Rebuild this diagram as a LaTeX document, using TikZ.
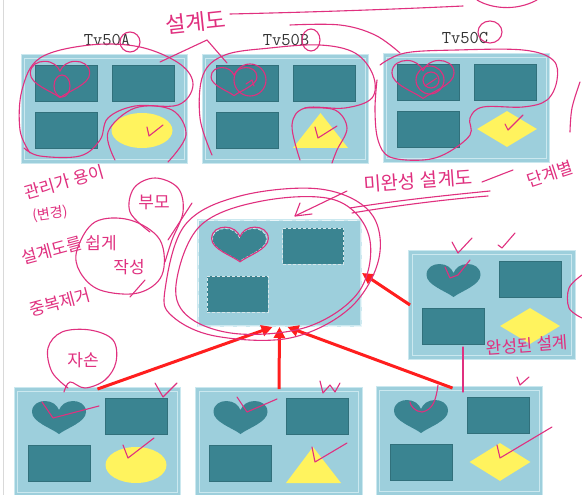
\documentclass[tikz,border=0pt]{standalone}
\usepackage{fontspec}
\newfontfamily\kor{Noto Sans CJK KR}
\usetikzlibrary{shapes.geometric,arrows.meta}
\definecolor{panelC}{HTML}{9DCFDC}
\definecolor{frameC}{HTML}{CBE8EF}
\definecolor{tealC}{HTML}{3A8491}
\definecolor{yelC}{HTML}{FFF35E}
\definecolor{pinkC}{HTML}{E0307F}
\definecolor{redC}{HTML}{FF1E1E}
\tikzset{
  heart/.pic={\path[pic actions] (0,16) .. controls (-8,10) and (-27,4) .. (-27,-6) .. controls (-27,-14) and (-20,-17) .. (-14,-17) .. controls (-7,-17) and (-2,-13) .. (0,-8) .. controls (2,-13) and (7,-17) .. (14,-17) .. controls (20,-17) and (27,-14) .. (27,-6) .. controls (27,4) and (8,10) .. (0,16) -- cycle;},
  panel/.style={rectangle, fill=panelC, draw=frameC, double=panelC, double distance=2.4pt, line width=0.9pt, minimum width=163pt, minimum height=105pt, inner sep=0},
  dpanel/.style={rectangle, fill=panelC, draw=frameC, line width=2pt, minimum width=163pt, minimum height=106pt, inner sep=0, postaction={draw=white!60!frameC, dash pattern=on 9pt off 4pt, line width=1pt}},
  slot/.style={rectangle, fill=tealC, draw=tealC!85!black, line width=0.4pt, minimum width=62pt, minimum height=36pt, inner sep=0},
  dslot/.style={rectangle, fill=tealC, draw=white!80!tealC, dash pattern=on 3pt off 2pt, line width=0.8pt, minimum width=61pt, minimum height=36pt, inner sep=0},
  yshape/.style={fill=yelC, draw=none, inner sep=0},
  title/.style={font=\ttfamily\fontsize{18}{20}\selectfont, text=black!80, inner sep=0},
  note/.style={text=pinkC, font=\kor\fontsize{17}{19}\selectfont, inner sep=0},
  ink/.style={draw=pinkC, line width=1.1pt, line cap=round, line join=round},
  link/.style={draw=redC, line width=3pt, -{Triangle[length=11pt,width=11pt]}},
  toppanel/.pic={
    \node[panel] (-box) at (0,0) {};
    \node[slot] (-tl) at (-38.5,-26) {};
    \node[slot] (-tr) at (38.5,-26) {};
    \node[slot] (-bl) at (-38.5,21) {};
  },
  heartpanel/.pic={
    \node[panel] (-box) at (0,0) {};
    \pic[fill=tealC] at (-38.5,-24) {heart};
    \node[slot] (-tr) at (38.5,-26) {};
    \node[slot] (-bl) at (-38.5,21) {};
  },
}
\begin{document}
\begin{tikzpicture}[x=1pt,y=-1pt]
\useasboundingbox[fill=white] (0,0) rectangle (582,495);
\draw[black!15, line width=0.8pt] (3,0) -- (3,495);

% titles
\node[title] (TA) at (107,40) {Tv50A};
\node[title] (TB) at (286,40) {Tv50B};
\node[title] (TC) at (465,38) {Tv50C};

% top row
\pic (A) at (104.5,109) {toppanel};
\pic (B) at (285.5,109) {toppanel};
\pic (C) at (466.5,108) {toppanel};
\node[yshape, ellipse, minimum width=61pt, minimum height=35pt] (Ay) at (142,130.5) {};
\fill[yelC] (293,148) -- (320.5,113) -- (348,148) -- cycle;
\node[yshape, diamond, minimum width=60pt, minimum height=36pt] (Cy) at (507,129) {};

% middle (abstract) panel
\node[dpanel] (M) at (279.5,273) {};
\pic[fill=tealC, draw=white!80!tealC, dash pattern=on 3pt off 2pt, line width=0.8pt] at (239.5,245.5) {heart};
\node[dslot] (M-tr) at (313.3,246) {};
\node[dslot] (M-bl) at (237.5,294) {};

% right panel
\pic (R) at (492,305) {heartpanel};
\node[yshape, diamond, minimum width=60pt, minimum height=36pt] (Ry) at (530,326) {};

% bottom row
\pic (P1) at (97.5,442) {heartpanel};
\pic (P2) at (279,442) {heartpanel};
\pic (P3) at (459.5,441) {heartpanel};
\node[yshape, ellipse, minimum width=61pt, minimum height=36pt] (P1y) at (136,465) {};
\fill[yelC] (286,483) -- (313,447) -- (341,483) -- cycle;
\node[yshape, diamond, minimum width=61pt, minimum height=38pt] (P3y) at (500,462) {};

% red inheritance arrows
\draw[link] (P1-box.north) -- ([xshift=-7pt]M.south);
\draw[link] (P2-box.north) -- (M.south);
\draw[link] ([xshift=-7pt]P3-box.north) -- ([xshift=8pt]M.south);
\draw[link] (R-box.west) -- (M.east);

% ---------- handwritten annotations ----------
\node[note, font=\kor\fontsize{22}{24}\selectfont, rotate=6] (n1) at (196,22) {설계도};
\node[note, font=\kor\fontsize{19}{21}\selectfont, rotate=4] (n2) at (418,181) {미완성 설계도};
\node[note, font=\kor\fontsize{17}{19}\selectfont, rotate=18] (n3) at (550,174) {단계별};
\node[note, rotate=16] (n4) at (64,182) {관리가 용이};
\node[note, font=\kor\fontsize{14}{16}\selectfont, rotate=8] (n5) at (50,214) {(변경)};
\node[note, rotate=15] (n6) at (52,250) {설계도를};
\node[note] (n7) at (101,243) {쉽게};
\node[note] (n8) at (129,267) {작성};
\node[note] (n9) at (154,202) {부모};
\node[note, rotate=15] (n10) at (60,302) {중복제거};
\node[note] (n11) at (83,360) {자손};
\node[note, rotate=4] (n12) at (527,345) {완성된 설계};

% strokes near titles / top
\draw[ink] (230,14) .. controls (320,12) and (400,9) .. (463,6);
\draw[ink] (477,0) .. controls (490,8) and (515,12) .. (537,0);
\draw[ink] (207,40) -- (160,62);
\draw[ink] (207,40) -- (227,63);
\draw[ink] (130,42) circle[radius=10pt];
\draw[ink] (311,40) circle[x radius=9pt, y radius=11pt];
\draw[ink] (490,32) circle[x radius=12pt, y radius=11pt];

% loops round the top panels
\draw[ink] plot[smooth, tension=0.6] coordinates {(30,153) (20,130) (22,90) (40,58) (90,45) (140,47) (180,64) (193,85) (178,105) (135,106) (108,118) (100,140) (80,156) (40,156) (24,148)};
\draw[ink] plot[smooth, tension=0.6] coordinates {(115,160) (108,132) (135,108) (172,110) (186,135) (168,162)};
\draw[ink] plot[smooth, tension=0.6] coordinates {(212,155) (200,118) (203,75) (225,55) (270,48) (320,45) (355,53) (373,75) (372,98) (345,108) (305,108) (292,125) (300,160)};
\draw[ink] plot[smooth, tension=0.6] coordinates {(305,108) (335,110) (347,128) (337,150) (332,163)};
\draw[ink] plot[smooth, tension=0.6] coordinates {(290,25) (340,25) (375,35) (400,53)};
\draw[ink] plot[smooth, tension=0.6] coordinates {(380,65) (405,53) (457,50) (523,50) (553,60) (557,80) (547,100) (523,107) (483,107) (470,118) (470,135) (447,153) (423,160) (390,157) (378,140) (375,110) (377,80)};
\draw[ink] plot[smooth, tension=0.6] coordinates {(580,82) (572,108) (570,132)};

% pink hearts / circles on top-left slots
\pic[ink, scale=1.1] at (60,80) {heart};
\draw[ink] (62,86) circle[x radius=8pt, y radius=11pt];
\pic[ink, scale=0.85] at (234,82) {heart};
\draw[ink] (250,80) circle[radius=16pt];
\draw[ink] (246,84) -- (252,80) -- (254,86);
\pic[ink, scale=1.15] at (423,80) {heart};
\draw[ink] (430,80) circle[radius=14pt];
\draw[ink] (431,80) circle[radius=8pt];
\draw[ink] (425,86) -- (437,78);

% checks on top row
\draw[ink] (147,127) -- (149,136) -- (163,125);
\draw[ink] (315,127) -- (318,138) -- (337,126);
\draw[ink] (505,124) -- (508,130) -- (523,115);

% loops round the middle panel and related notes
\draw[ink] plot[smooth cycle, tension=0.6] coordinates {(165,290) (185,225) (240,196) (320,189) (370,212) (379,258) (350,308) (290,338) (215,336) (172,316)};
\draw[ink] plot[smooth cycle, tension=0.6] coordinates {(176,285) (200,226) (262,201) (335,200) (369,236) (360,290) (310,326) (240,334) (190,318)};
\pic[ink, scale=1.05] at (240,245) {heart};
\draw[ink] (347,191) -- (295,216);
\draw[ink] (300,203) -- (295,216) -- (312,214);
\draw[ink] (350,208) .. controls (400,200) and (450,195) .. (490,191);
\draw[ink] (352,213) .. controls (400,205) and (450,199) .. (488,196);
\draw[ink] (482,182) .. controls (495,177) and (505,173) .. (513,170);
\draw[ink] plot[smooth, tension=0.6] coordinates {(150,232) (130,212) (134,188) (155,178) (178,188) (183,212) (172,240) (165,262)};
\draw[ink] (192,203) -- (168,240);
\draw[ink] plot[smooth cycle, tension=0.6] coordinates {(77,250) (95,222) (130,220) (160,240) (162,275) (138,293) (100,290) (80,272)};
\draw[ink] (145,280) -- (130,297);
\draw[ink] plot[smooth, tension=0.6] coordinates {(68,388) (52,372) (48,348) (62,332) (90,330) (113,340) (116,362) (105,380) (85,388) (70,382) (64,392)};

% checks on the right panel
\draw[ink] (452,242) -- (458,253) -- (472,238);
\draw[ink] (498,245) -- (502,248) -- (515,233);
\draw[ink] (445,267) -- (450,278) -- (458,275) -- (470,260);
\draw[ink] plot[smooth, tension=0.6] coordinates {(582,275) (569,288) (569,308) (582,318)};

% checks on the bottom row
\draw[ink] (42,402) -- (53,418) -- (99,406);
\draw[ink] (155,383) -- (163,397) -- (177,383);
\draw[ink] (123,445) -- (128,458) -- (154,438);
\draw[ink] (237,397) -- (247,412) -- (277,399);
\draw[ink] (320,381) -- (323,393) -- (330,385) -- (335,392) -- (340,383);
\draw[ink] (312,447) -- (315,462) -- (347,443);
\draw[ink] (438,385) .. controls (436,400) and (433,410) .. (422,412) .. controls (415,412) and (410,405) .. (410,402);
\draw[ink] (517,377) -- (520,385) -- (529,377);
\draw[ink] (497,445) -- (500,458) -- (552,427);
\draw[ink] (463,347) -- (463,392);
\end{tikzpicture}
\end{document}
